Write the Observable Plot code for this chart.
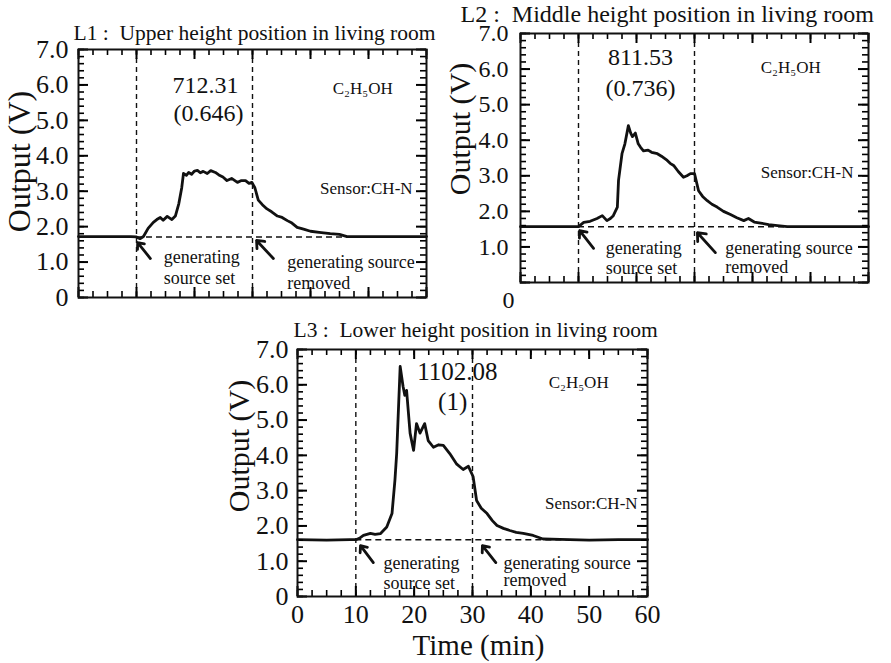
<!DOCTYPE html>
<html><head><meta charset="utf-8">
<script src="https://cdn.jsdelivr.net/npm/d3@7"></script>
<script src="https://cdn.jsdelivr.net/npm/@observablehq/plot@0.6"></script>
<style>
body{margin:0;background:#fff;}
#wrap{position:relative;width:891px;height:663px;overflow:hidden;background:#fff;}
#wrap > svg{position:absolute;}
</style></head><body><div id="wrap"></div>
<script>
// ---- axis values ----
const timeTicks = [0, 10, 20, 30, 40, 50, 60];
const voltTicks = [0, 1, 2, 3, 4, 5, 6, 7];
const timeMinor = d3.range(0, 60.01, 2.5);
const voltMinor = d3.range(0, 7.01, 0.2);
const eventTimes = [10, 30]; // source set, source removed

// ---- sensor output curves [time (min), output (V)] ----
const l1Curve = [[0,1.72],[5,1.72],[9,1.72],[10,1.71],[10.6,1.66],[11.2,1.72],[12,1.95],[12.9,2.12],[13.5,2.2],[14.1,2.26],[14.6,2.18],[15.3,2.29],[16.1,2.2],[16.7,2.3],[17.3,2.65],[17.8,3.1],[18.1,3.5],[18.6,3.45],[19,3.53],[19.5,3.48],[20,3.57],[20.5,3.59],[21,3.52],[21.5,3.56],[22.2,3.5],[22.8,3.58],[23.6,3.53],[24.2,3.46],[24.9,3.4],[25.6,3.3],[26.4,3.36],[27.4,3.25],[28.1,3.3],[28.8,3.3],[29.4,3.22],[29.9,3.25],[30.4,3.1],[31,2.75],[31.7,2.62],[32.5,2.5],[33.3,2.42],[34.3,2.3],[35.1,2.26],[36,2.17],[36.8,2.1],[37.7,1.98],[38.8,1.93],[40,1.87],[41.5,1.84],[43.4,1.8],[45,1.78],[46.3,1.72],[48,1.72],[52,1.72],[56,1.72],[60,1.72]];
const l2Curve = [[0,1.57],[9,1.57],[10,1.57],[10.9,1.69],[12,1.72],[13.2,1.8],[14.1,1.88],[14.9,1.74],[15.5,1.8],[16,1.88],[16.7,2.12],[16.9,2.87],[17.5,3.62],[18,3.9],[18.6,4.41],[19,4.2],[19.3,4.1],[19.8,4.2],[20.3,3.9],[20.7,3.8],[21.2,3.7],[22,3.72],[22.6,3.66],[23.6,3.62],[24.3,3.55],[25.3,3.43],[25.8,3.35],[26.4,3.29],[27.2,3.12],[28.1,2.96],[28.7,3.0],[29.3,3.06],[30,3.06],[30.7,2.58],[31.4,2.42],[32.2,2.3],[33,2.2],[33.9,2.12],[35,2.0],[36.2,1.91],[37.3,1.82],[38.5,1.74],[39.3,1.8],[40.3,1.7],[41.4,1.67],[42.8,1.63],[44.3,1.6],[46,1.57],[50,1.57],[55,1.57],[60,1.57]];
const l3Curve = [[0,1.61],[5,1.6],[9,1.61],[10,1.61],[10.6,1.65],[11.3,1.73],[12.5,1.79],[13.3,1.76],[14.2,1.78],[15.3,1.97],[16.2,2.35],[16.7,3.29],[17,4.05],[17.6,6.52],[18.1,5.95],[18.4,5.7],[18.7,5.84],[19.3,4.63],[19.9,4.14],[20.4,4.9],[21,4.63],[21.8,4.9],[22.4,4.42],[23.3,4.23],[24.2,4.3],[25,4.28],[26.1,4.05],[27.3,3.75],[28.4,3.6],[29.3,3.69],[30.1,3.4],[30.7,2.72],[31.5,2.5],[32.5,2.35],[33.4,2.15],[34.2,2.01],[35.3,1.93],[36.4,1.87],[37.5,1.82],[38.7,1.79],[40.4,1.73],[42.1,1.63],[45,1.62],[50,1.6],[55,1.61],[60,1.61]];
const baselines = [1.71, 1.57, 1.61];

// ---- texts ----
const titles = ["L1 :  Upper height position in living room", "L2 :  Middle height position in living room", "L3 :  Lower height position in living room"];
const doseValues = [["712.31", "(0.646)"], ["811.53", "(0.736)"], ["1102.08", "(1)"]];
const gasLabel = "C\u2082H\u2085OH";
const sensorLabel = "Sensor:CH-N";
const setLabel = ["generating", "source set"];
const removedLabel = ["generating source", "removed"];
const yTitle = "Output (V)";
const xTitle = "Time (min)";

const FONT = "'Liberation Serif', 'Times New Roman', Times, serif";

function panel(c) {
  const fw = c.width - c.ml - c.mr, fh = c.height - c.mt - c.mb;
  const data = c.curve.map(([t, v]) => ({t, v}));
  const major = 10, minor = 6;
  // tick lengths converted from pixels to data units through the frame size
  const tx = px => 60 * px / fw, ty = px => 7 * px / fh;
  const marks = [
    Plot.ruleX(eventTimes, {x: d => d, stroke: "#111", strokeWidth: 1.4, strokeDasharray: "5,4"}),
    Plot.ruleY([c.base], {y: d => d, x1: eventTimes[0], x2: 60, stroke: "#111", strokeWidth: 1.5, strokeDasharray: "6,4"}),
    Plot.line(data, {x: "t", y: "v", stroke: "#111", strokeWidth: 2.8, strokeLinejoin: "round"}),
    // inward ticks on four sides
    Plot.ruleY(voltMinor, {y: d => d, x1: 0, x2: tx(minor), stroke: "#000", strokeWidth: 1.6}),
    Plot.ruleY(voltTicks, {y: d => d, x1: 0, x2: tx(major), stroke: "#000", strokeWidth: 2}),
    Plot.ruleY(voltMinor, {y: d => d, x1: 60 - tx(minor), x2: 60, stroke: "#000", strokeWidth: 1.6}),
    Plot.ruleY(voltTicks, {y: d => d, x1: 60 - tx(major), x2: 60, stroke: "#000", strokeWidth: 2}),
    Plot.ruleX(timeMinor, {x: d => d, y1: 0, y2: ty(minor), stroke: "#000", strokeWidth: 1.6}),
    Plot.ruleX(timeTicks, {x: d => d, y1: 0, y2: ty(major), stroke: "#000", strokeWidth: 2}),
    Plot.ruleX(timeMinor, {x: d => d, y1: 7 - ty(minor), y2: 7, stroke: "#000", strokeWidth: 1.6}),
    Plot.ruleX(timeTicks, {x: d => d, y1: 7 - ty(major), y2: 7, stroke: "#000", strokeWidth: 2}),
    Plot.frame({stroke: "#111", strokeWidth: 2}),
    Plot.axisY(c.zeroBelow ? voltTicks.slice(1) : voltTicks, {tickSize: 0, tickPadding: c.yPad, tickFormat: d => d === 0 ? "0" : d.toFixed(1), fontSize: c.tickFont, label: null, fill: "#111"}),
    // y title
    Plot.text([yTitle], {text: d => d, frameAnchor: "left", textAnchor: "middle", lineAnchor: "middle", rotate: -90, dx: c.yTitleDx, dy: c.yTitleDy, fontSize: c.yTitleFont, fill: "#111"}),
    // panel title
    Plot.text([c.title], {text: d => d, frameAnchor: "top-left", textAnchor: "start", lineAnchor: "middle", dx: c.titleDx, dy: c.titleDy, fontSize: c.titleFont, fill: "#111"}),
    // annotations
    Plot.text([c.dose[0]], {text: d => d, x: c.doseAt[0][0], y: c.doseAt[0][1], fontSize: c.doseFont, fill: "#111"}),
    Plot.text([c.dose[1]], {text: d => d, x: c.doseAt[1][0], y: c.doseAt[1][1], fontSize: c.doseFont, fill: "#111"}),
    Plot.text([gasLabel], {text: d => d, x: c.gasAt[0], y: c.gasAt[1], fontSize: 17, fill: "#111"}),
    Plot.text([sensorLabel], {text: d => d, x: c.sensorAt[0], y: c.sensorAt[1], textAnchor: "end", fontSize: 17, fill: "#111"}),
    Plot.text(setLabel, {text: d => d, x: c.setAt[0], y: (d, i) => c.setAt[1 + i], textAnchor: "start", fontSize: 18, fill: "#111"}),
    Plot.text(removedLabel, {text: d => d, x: c.remAt[0], y: (d, i) => c.remAt[1 + i], textAnchor: "start", fontSize: 18, fill: "#111"}),
    Plot.arrow(c.arrows, {x1: d => d[0], y1: d => d[1], x2: d => d[2], y2: d => d[3], stroke: "#111", strokeWidth: 2.8, headLength: 11, headAngle: 80})
  ];
  if (c.zeroBelow) {
    marks.push(Plot.text(["0"], {text: d => d, frameAnchor: "bottom-left", textAnchor: "middle", lineAnchor: "middle", dx: -12, dy: 18, fontSize: c.tickFont, fill: "#111"}));
  }
  if (c.xAxis) {
    marks.push(Plot.axisX(timeTicks, {tickSize: 0, tickPadding: 8, fontSize: c.tickFont, label: null, fill: "#111"}));
    marks.push(Plot.text([xTitle], {text: d => d, frameAnchor: "bottom", textAnchor: "middle", lineAnchor: "middle", dx: 6, dy: 49, fontSize: 29, fill: "#111"}));
  }
  const svg = Plot.plot({
    width: c.width, height: c.height,
    marginLeft: c.ml, marginTop: c.mt, marginRight: c.mr, marginBottom: c.mb,
    style: {fontFamily: FONT, background: "transparent", color: "#111", overflow: "visible"},
    x: {domain: [0, 60], axis: c.xAxis ? undefined : null},
    y: {domain: [0, 7]},
    marks
  });
  svg.style.left = c.left + "px";
  svg.style.top = c.top + "px";
  document.getElementById("wrap").appendChild(svg);
}

panel({left: 0, top: 0, width: 445, height: 310, ml: 78, mt: 49, mr: 19, mb: 13,
  curve: l1Curve, base: baselines[0], title: titles[0], titleDx: -5, titleDy: -16, titleFont: 21.5,
  tickFont: 26, yPad: 10, yTitleDx: -59, yTitleDy: -12, yTitleFont: 32,
  dose: doseValues[0], doseAt: [[21.9, 6.0], [22.4, 5.2]], doseFont: 24,
  gasAt: [49, 5.9], sensorAt: [57.6, 3.08], setAt: [14.7, 1.13, 0.54], remAt: [36, 0.99, 0.4],
  arrows: [[12.4, 1.1, 10.2, 1.55], [33.6, 1.1, 30.7, 1.61]]});

panel({left: 440, top: 0, width: 451, height: 310, ml: 80, mt: 33, mr: 23, mb: 28,
  curve: l2Curve, base: baselines[1], title: titles[1], titleDx: -60, titleDy: -19, titleFont: 24,
  tickFont: 24, yPad: 12, yTitleDx: -60, yTitleDy: -29, yTitleFont: 30, zeroBelow: true,
  dose: doseValues[1], doseAt: [[20.7, 6.32], [20.7, 5.45]], doseFont: 24,
  gasAt: [46.6, 6.04], sensorAt: [57.4, 3.09], setAt: [14.7, 0.96, 0.39], remAt: [35.3, 0.96, 0.42],
  arrows: [[12.6, 0.96, 10.2, 1.46], [33.6, 0.84, 30.5, 1.4]]});

panel({left: 200, top: 310, width: 470, height: 353, ml: 97, mt: 39, mr: 23, mb: 67,
  curve: l3Curve, base: baselines[2], title: titles[2], titleDx: -4, titleDy: -19, titleFont: 21.5,
  tickFont: 26, yPad: 9, yTitleDx: -58, yTitleDy: -27, yTitleFont: 30, xAxis: true,
  dose: doseValues[2], doseAt: [[27.4, 6.35], [26.6, 5.5]], doseFont: 25,
  gasAt: [48.2, 6.06], sensorAt: [58.3, 2.63], setAt: [14.75, 0.93, 0.37], remAt: [35.3, 0.93, 0.45],
  arrows: [[13, 0.96, 10.8, 1.44], [34, 0.96, 31.7, 1.44]]});
</script></body></html>
